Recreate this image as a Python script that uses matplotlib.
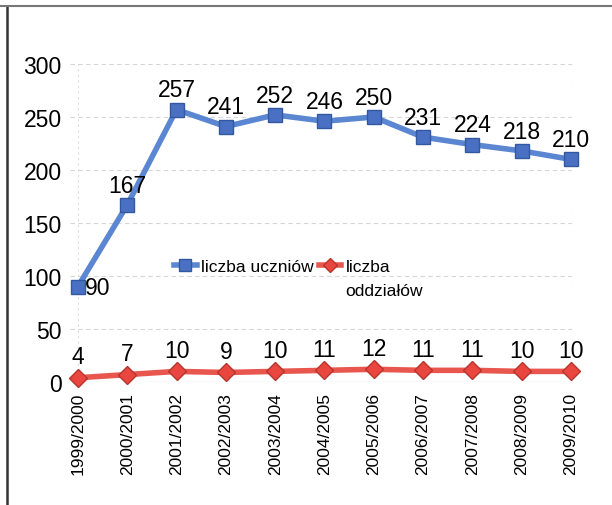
import matplotlib
matplotlib.use("Agg")
import matplotlib.pyplot as plt
from matplotlib.lines import Line2D

years = ["1999/2000", "2000/2001", "2001/2002", "2002/2003", "2003/2004",
         "2004/2005", "2005/2006", "2006/2007", "2007/2008", "2008/2009",
         "2009/2010"]
uczniowie = [90, 167, 257, 241, 252, 246, 250, 231, 224, 218, 210]
oddzialy = [4, 7, 10, 9, 10, 11, 12, 11, 11, 10, 10]
y_ticks = [0, 50, 100, 150, 200, 250, 300]

plt.rcParams["font.family"] = ["Liberation Sans", "DejaVu Sans"]

W, H = 612, 506
fig = plt.figure(figsize=(W / 100, H / 100), dpi=100)
fig.patch.set_facecolor("white")

# plot area in pixel coordinates
left, right, top, bottom = 70, 572, 65, 383
ax = fig.add_axes([left / W, 1 - bottom / H, (right - left) / W, (bottom - top) / H])
ax.set_facecolor("white")

x = list(range(len(years)))
blue_line, blue_face, blue_edge = "#5b86d2", "#4a70c4", "#33589f"
red_line, red_face, red_edge = "#e8564e", "#e8463f", "#b8352e"

ax.plot(x, uczniowie, color=blue_line, lw=4, marker="s", ms=10.5,
        mfc=blue_face, mec=blue_edge, mew=1, clip_on=False, zorder=3)
ax.plot(x, oddzialy, color=red_line, lw=4, marker="D", ms=9,
        mfc=red_face, mec=red_edge, mew=1, clip_on=False, zorder=3)

for i, v in enumerate(uczniowie):
    if i == 0:
        ax.annotate(str(v), (i, v), xytext=(5, -1), textcoords="offset points",
                    ha="left", va="center", fontsize=16.5)
    else:
        ax.annotate(str(v), (i, v), xytext=(0, 6), textcoords="offset points",
                    ha="center", va="bottom", fontsize=16.5)
for i, v in enumerate(oddzialy):
    ax.annotate(str(v), (i, v), xytext=(0, 7), textcoords="offset points",
                ha="center", va="bottom", fontsize=16.5)

ax.set_xlim(-0.16, 10.02)
ax.set_ylim(0, 300)
ax.set_yticks(y_ticks)
ax.set_yticklabels([str(t) for t in y_ticks], fontsize=16.5)
ax.set_xticks(x)
ax.set_xticklabels(years, rotation=90, fontsize=12.5)
ax.tick_params(axis="both", length=0)
ax.tick_params(axis="y", pad=6)
ax.tick_params(axis="x", pad=7)

for s in ax.spines.values():
    s.set_visible(False)
ax.yaxis.grid(True, color="#d6d6d6", lw=0.8, ls=(0, (4, 3)))
ax.axvline(0, color="#dddddd", lw=0.8, ls=(0, (2, 3)), zorder=0)
ax.axvline(10.02, color="#e4e4e4", lw=0.8, ls=(0, (2, 3)), zorder=0)
ax.axhline(0, color="#d8d8d8", lw=0.8, zorder=0)
ax.set_axisbelow(True)

handles = [
    Line2D([], [], color=blue_line, lw=4, marker="s", ms=8,
           mfc=blue_face, mec=blue_edge),
    Line2D([], [], color=red_line, lw=4, marker="D", ms=7.5,
           mfc=red_face, mec=red_edge),
]
leg = fig.legend(handles, ["liczba uczniów", "liczba"], ncol=2,
                 loc="upper left", bbox_to_anchor=(174 / W, 1 - 260 / H),
                 frameon=False, fontsize=12.5, handlelength=1.3,
                 handletextpad=0.25, columnspacing=0.3, borderpad=0,
                 borderaxespad=0)
fig.canvas.draw()
# second line of the "liczba oddziałów" entry
t2 = leg.get_texts()[1]
bb = t2.get_window_extent()
fig.text(bb.x0 / W, (bb.y0 - 9) / H, "oddziałów", fontsize=12.5,
         ha="left", va="top")

# outer frame of the chart
fig.add_artist(Line2D([7 / W, 7 / W], [0, 1 - 7 / H], transform=fig.transFigure,
                      color="#333333", lw=1.8))
fig.add_artist(Line2D([0, 1], [1 - 7 / H, 1 - 7 / H], transform=fig.transFigure,
                      color="#777777", lw=1.5))

fig.savefig("out.png", dpi=100, facecolor="white")
